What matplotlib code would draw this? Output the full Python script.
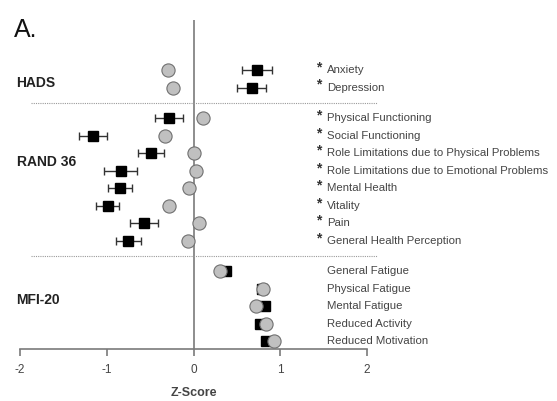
import matplotlib
matplotlib.use("Agg")
import matplotlib.pyplot as plt

plt.rcParams['font.family'] = ['Liberation Sans', 'DejaVu Sans']
plt.rcParams['axes.unicode_minus'] = False

# scales and subscale names (top to bottom)
groups = ['HADS', 'RAND 36', 'MFI-20']
hads_items = ['Anxiety', 'Depression']
rand_items = ['Physical Functioning', 'Social Functioning',
              'Role Limitations due to Physical Problems',
              'Role Limitations due to Emotional Problems',
              'Mental Health', 'Vitality', 'Pain', 'General Health Perception']
mfi_items = ['General Fatigue', 'Physical Fatigue', 'Mental Fatigue',
             'Reduced Activity', 'Reduced Motivation']

# patients (black squares, mean +/- SEM)
hads_pat = [0.73, 0.67]
hads_pat_err = [0.17, 0.17]
rand_pat = [-0.28, -1.16, -0.49, -0.84, -0.85, -0.99, -0.57, -0.75]
rand_pat_err = [0.16, 0.16, 0.15, 0.19, 0.14, 0.13, 0.16, 0.14]
mfi_pat = [0.37, 0.79, 0.82, 0.77, 0.84]
mfi_pat_err = [0.04, 0.04, 0.04, 0.04, 0.04]

# comparison group (grey circles)
hads_ctl = [-0.29, -0.24]
rand_ctl = [0.11, -0.33, 0.0, 0.03, -0.05, -0.28, 0.06, -0.06]
mfi_ctl = [0.30, 0.80, 0.72, 0.84, 0.93]

significant = [True] * 10 + [False] * 5

items = hads_items + rand_items + mfi_items
pat = hads_pat + rand_pat + mfi_pat
pat_err = hads_pat_err + rand_pat_err + mfi_pat_err
ctl = hads_ctl + rand_ctl + mfi_ctl

# row positions with a gap between scales
gap = 0.75
ypos = []
y = 0.0
for g, block in enumerate([hads_items, rand_items, mfi_items]):
    if g > 0:
        y += gap
    for _ in block:
        ypos.append(y)
        y += 1
n1 = len(hads_items)
n2 = n1 + len(rand_items)
sep1 = (ypos[n1 - 1] + ypos[n1]) / 2
sep2 = (ypos[n2 - 1] + ypos[n2]) / 2

fig = plt.figure(figsize=(5.57, 4.01), dpi=100)
ax = fig.add_axes([20 / 557, 52 / 401, 347 / 557, 329 / 401])
ax.set_xlim(-2, 2)
ax.set_ylim(15.94, -2.86)

axis_col = '#7a7a7a'
text_col = '#444444'

ax.axvline(0, color=axis_col, lw=1.2, zorder=1)
for s in (sep1, sep2):
    ax.plot([-1.87, 2.12], [s, s], color='#9a9a9a', lw=0.8, ls=(0, (1, 1)),
            clip_on=False, zorder=1)

ax.errorbar(pat, ypos, xerr=pat_err, fmt='s', color='black', ms=7.5,
            ecolor='#333333', elinewidth=1, capsize=3.2, capthick=1, zorder=3)
ax.plot(ctl, ypos, 'o', ms=9.5, mfc='#c0c0c0', mec='#707070', mew=0.8,
        ls='none', zorder=4)

# right-hand labels
for name, yy, sig in zip(items, ypos, significant):
    if sig:
        ax.text(1.44, yy - 0.15, '*', fontsize=10, fontweight='bold',
                color='#333333', ha='center', va='center', clip_on=False)
    ax.text(1.54, yy, name, fontsize=8.2, color=text_col, va='center',
            clip_on=False)

# scale labels on the left
group_y = [0.74, 5.26, 13.14]
for name, yy in zip(groups, group_y):
    ax.text(-2.04, yy, name, fontsize=10, fontweight='bold', color='#222222',
            va='center', clip_on=False)

fig.text(14 / 557, 1 - 30 / 401, 'A.', fontsize=18, color='#111111',
         va='center', ha='left')

for side in ('left', 'top', 'right'):
    ax.spines[side].set_visible(False)
ax.spines['bottom'].set_color(axis_col)
ax.spines['bottom'].set_linewidth(1.2)
ax.set_yticks([])
ax.set_xticks([-2, -1, 0, 1, 2])
ax.tick_params(axis='x', direction='out', length=5, width=1.2, color=axis_col,
               labelcolor=text_col, labelsize=8.5, pad=6)
ax.set_xlabel('Z-Score', fontsize=9, fontweight='bold', color=text_col,
              labelpad=8)

fig.savefig('out.png', dpi=100)
